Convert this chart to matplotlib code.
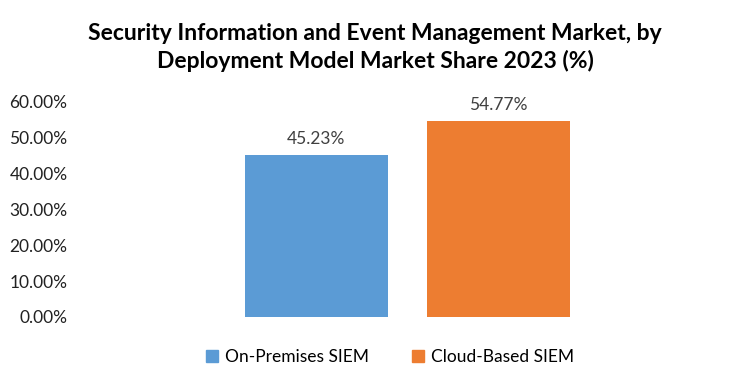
import matplotlib
matplotlib.use("Agg")
import matplotlib.pyplot as plt
from matplotlib.patches import Patch

categories = ["On-Premises SIEM", "Cloud-Based SIEM"]
shares = [45.23, 54.77]
colors = ["#5B9BD5", "#ED7D31"]
yticks = [0, 10, 20, 30, 40, 50, 60]

plt.rcParams["font.family"] = ["Lato", "DejaVu Sans"]

fig = plt.figure(figsize=(7.5, 3.87), dpi=100)
ax = fig.add_axes([0.1067, 0.181, 0.873, 0.5556])

x = list(range(len(categories)))
ax.bar(x, shares, width=0.786, color=colors)
for xi, v in zip(x, shares):
    ax.text(xi, v + 2.2, f"{v:.2f}%", ha="center", va="bottom", fontsize=12.5, color="#404040")

ax.set_xlim(-1.299, 2.299)
ax.set_ylim(0, 60)
ax.set_yticks(yticks)
ax.set_yticklabels([f"{t:.2f}%" for t in yticks], fontsize=12.5, color="#222222")
ax.set_xticks([])
ax.tick_params(axis="y", length=0, pad=9)
for s in ax.spines.values():
    s.set_visible(False)

fig.text(0.5, 0.877, "Security Information and Event Management Market, by\nDeployment Model Market Share 2023 (%)",
         ha="center", va="center", fontsize=16.5, fontweight="bold", linespacing=1.3)

handles = [Patch(color=c, label=l) for c, l in zip(colors, categories)]
fig.legend(handles=handles, loc="center", bbox_to_anchor=(0.52, 0.077), ncol=2, frameon=False,
           fontsize=12.5, handlelength=0.7, handleheight=0.7, handletextpad=0.4, columnspacing=2.5)

fig.savefig("out.png", dpi=100)
